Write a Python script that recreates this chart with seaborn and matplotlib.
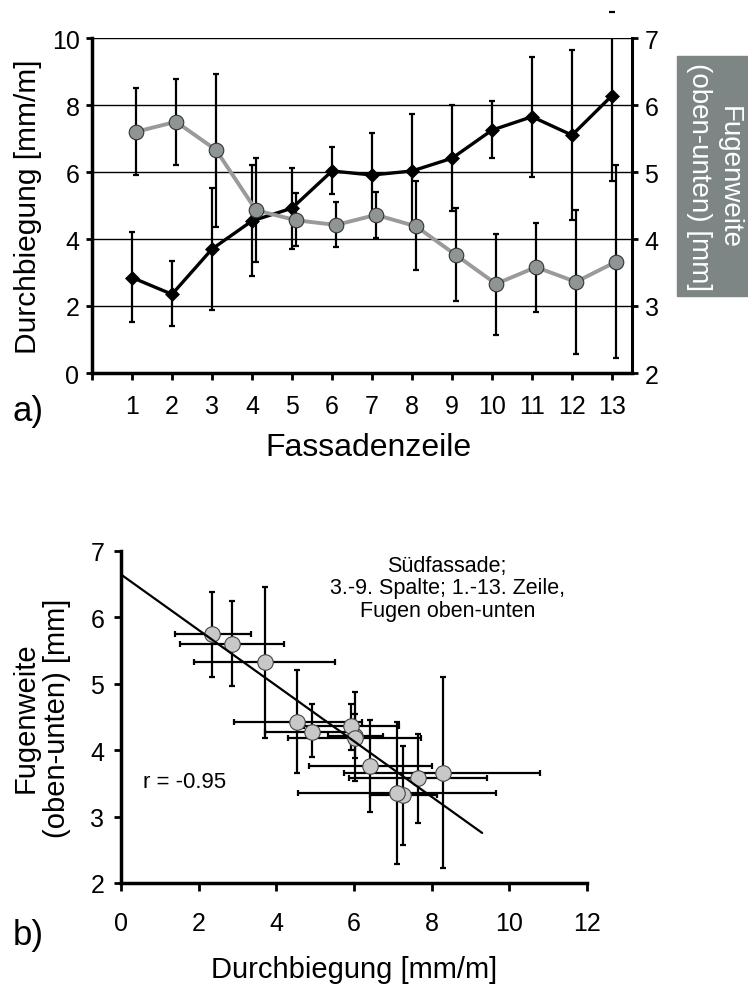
import numpy as np
import matplotlib
matplotlib.use('Agg')
import matplotlib.pyplot as plt
import seaborn as sns
from matplotlib.patches import Rectangle

# ---- data ----
rows = list(range(1, 14))
row_labels = [str(r) for r in rows]
durch = [2.85, 2.35, 3.70, 4.54, 4.92, 6.03, 5.91, 6.03, 6.41, 7.25, 7.65, 7.10, 8.28]
durch_lo = [1.52, 1.40, 1.88, 2.90, 3.70, 5.34, 4.70, 4.30, 4.83, 6.41, 5.86, 4.57, 5.74]
durch_hi = [4.20, 3.34, 5.52, 6.20, 6.12, 6.75, 7.16, 7.73, 8.00, 8.13, 9.43, 9.65, 10.78]
fug = [5.60, 5.75, 5.33, 4.43, 4.28, 4.21, 4.36, 4.19, 3.76, 3.33, 3.58, 3.36, 3.66]
fug_lo = [4.96, 5.10, 4.18, 3.66, 3.90, 3.88, 4.01, 3.54, 3.07, 2.57, 2.91, 2.28, 2.22]
fug_hi = [6.25, 6.39, 6.46, 5.21, 4.69, 4.55, 4.70, 4.87, 4.46, 4.07, 4.24, 4.43, 5.10]
r_text = 'r = -0.95'
note_text = 'Südfassade;\n3.-9. Spalte; 1.-13. Zeile,\nFugen oben-unten'

sns.set_theme(style='white')
plt.rcParams['font.family'] = ['Liberation Sans', 'DejaVu Sans']
plt.rcParams.update({'axes.edgecolor': 'black', 'xtick.color': 'black',
                     'ytick.color': 'black', 'text.color': 'black',
                     'axes.labelcolor': 'black'})

W, H = 748, 987
fig = plt.figure(figsize=(W / 100, H / 100), dpi=100)


def box(l, t, r, b):
    return [l / W, 1 - b / H, (r - l) / W, (b - t) / H]


d = np.array(durch); dlo = np.array(durch_lo); dhi = np.array(durch_hi)
f = np.array(fug); flo = np.array(fug_lo); fhi = np.array(fug_hi)
x_gray = np.array(rows) + 0.1

TICK = 18

# ---- top chart ----
ax = fig.add_axes(box(92, 39, 632, 374))
ax2 = ax.twinx()
ax.set_xlim(0, 13.5)
ax.set_ylim(0, 10)
ax2.set_ylim(2, 7)
ax.set_yticks([0, 2, 4, 6, 8, 10])
ax2.set_yticks([2, 3, 4, 5, 6, 7])
ax.set_xticks(range(0, 14))
ax.set_xticklabels([''] + row_labels)
ax.grid(axis='y', color='black', lw=1)
ax.grid(axis='x', visible=False)
ax2.grid(False)

ax.errorbar(rows, d, yerr=[d - dlo, dhi - d], fmt='none', ecolor='black',
            elinewidth=1.6, capsize=2, capthick=1.6, zorder=2)
ax.plot([rows[-1]], [durch_hi[-1]], marker='_', color='black', ms=4, mew=1.6,
        clip_on=False)
sns.lineplot(x=rows, y=durch, ax=ax, color='black', lw=2.4, marker='D',
             markersize=7, markeredgecolor='black', markeredgewidth=0.5, zorder=3)

ax2.errorbar(x_gray, f, yerr=[f - flo, fhi - f], fmt='none', ecolor='black',
             elinewidth=1.6, capsize=2, capthick=1.6, zorder=2)
sns.lineplot(x=x_gray, y=fug, ax=ax2, color='#9a9a9a', lw=2.8, marker='o',
             markersize=10.5, markerfacecolor='#8f9494', markeredgecolor='#333333',
             markeredgewidth=0.8, zorder=3)

for s in ['top', 'right']:
    ax.spines[s].set_visible(False)
for s in ['top', 'left', 'bottom']:
    ax2.spines[s].set_visible(False)
ax.spines['left'].set_linewidth(2.5)
ax.spines['bottom'].set_linewidth(2.5)
ax2.spines['right'].set_linewidth(2.2)
ax.tick_params(axis='y', direction='out', left=True, length=4, width=2,
               labelsize=TICK, pad=5)
ax.tick_params(axis='x', direction='out', bottom=True, length=5, width=2,
               labelsize=TICK, pad=10)
ax2.tick_params(axis='y', direction='out', right=True, length=4, width=2,
                labelsize=TICK, pad=5)
ax.set_ylabel('Durchbiegung [mm/m]', fontsize=21.5, va='center')
ax.yaxis.set_label_coords((28 - 92) / 540, 0.5)
ax.set_xlabel('Fassadenzeile', fontsize=23, va='center')
ax.xaxis.set_label_coords((368 - 92) / 540, (374 - 448) / 335)
ax2.set_ylabel('')

fig.text(13 / W, 1 - 412 / H, 'a)', fontsize=25, ha='left', va='center')

fig.add_artist(Rectangle((677 / W, 1 - 297 / H), 0.2, (297 - 57) / H,
                         transform=fig.transFigure, color='#7d8585', zorder=1))
fig.text(714 / W, 1 - 177 / H, 'Fugenweite\n(oben-unten) [mm]', rotation=270,
         ha='center', va='center', color='white', fontsize=20,
         multialignment='center', linespacing=1.2, zorder=2)

# ---- bottom chart ----
ax3 = fig.add_axes(box(121, 552, 587, 884))
ax3.set_xlim(0, 12)
ax3.set_ylim(2, 7)
ax3.set_xticks(range(0, 13, 2))
ax3.set_yticks(range(2, 8))
ax3.errorbar(d, f, xerr=[d - dlo, dhi - d], yerr=[f - flo, fhi - f], fmt='none',
             ecolor='black', elinewidth=1.6, capsize=2, capthick=1.6, zorder=2)
sns.scatterplot(x=durch, y=fug, ax=ax3, s=125, color='#c8c8c8',
                edgecolor='#444444', linewidth=0.8, zorder=3)
coef = np.polyfit(d, f, 1)
xs = np.array([0, 9.3])
ax3.plot(xs, np.polyval(coef, xs), color='black', lw=1.6, zorder=4)

for s in ['top', 'right']:
    ax3.spines[s].set_visible(False)
ax3.spines['left'].set_linewidth(2.5)
ax3.spines['bottom'].set_linewidth(2.5)
ax3.tick_params(axis='y', direction='out', left=True, length=5, width=2,
                labelsize=TICK, pad=7)
ax3.tick_params(axis='x', direction='out', bottom=True, length=6, width=2,
                labelsize=TICK, pad=14)
ax3.set_ylabel('Fugenweite\n(oben-unten) [mm]', fontsize=21, va='center',
               multialignment='center', linespacing=1.15)
ax3.yaxis.set_label_coords((41 - 121) / 466, 0.5)
ax3.set_xlabel('Durchbiegung [mm/m]', fontsize=21, va='center')
ax3.xaxis.set_label_coords(0.5, (884 - 970) / 332)
ax3.text(0.047, 0.307, r_text, fontsize=16, transform=ax3.transAxes,
         ha='left', va='center')
ax3.text(0.70, 0.889, note_text, fontsize=15.5, transform=ax3.transAxes,
         ha='center', va='center', linespacing=1.1)

fig.text(13 / W, 1 - 936 / H, 'b)', fontsize=25, ha='left', va='center')

fig.savefig('out.png', dpi=100)
